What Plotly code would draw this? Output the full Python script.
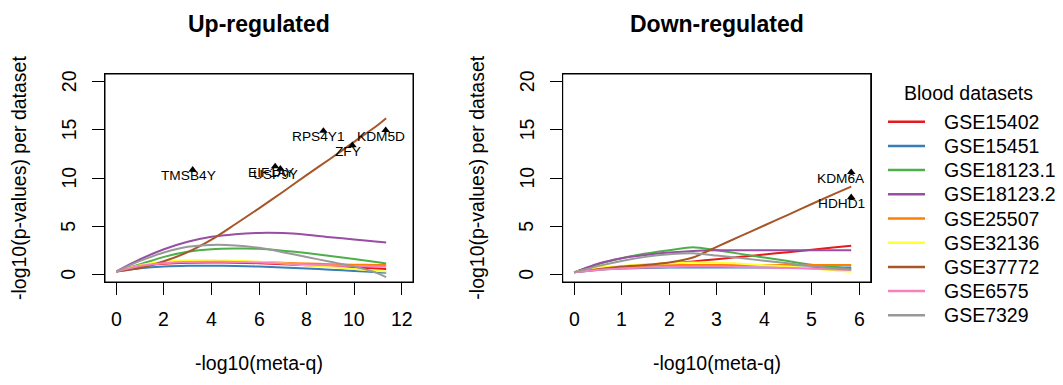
import plotly.graph_objects as go

# ---- data -------------------------------------------------------------
datasets = ["GSE15402", "GSE15451", "GSE18123.1", "GSE18123.2", "GSE25507",
            "GSE32136", "GSE37772", "GSE6575", "GSE7329"]
colors = ["#E41A1C", "#377EB8", "#4DAF4A", "#984EA3", "#FF7F00",
          "#FFFF33", "#A65628", "#F781BF", "#999999"]

# smoothed -log10(p) per dataset along -log10(meta-q), up-regulated genes
up_x = [0, 1, 2, 3, 4, 5, 6, 7, 8, 9, 10, 11, 11.35]
up_GSE15402 = [0.3, 0.85, 1.1, 1.2, 1.22, 1.2, 1.15, 1.05, 0.95, 0.85, 0.72, 0.6, 0.55]
up_GSE15451 = [0.3, 0.62, 0.8, 0.88, 0.9, 0.87, 0.8, 0.7, 0.6, 0.48, 0.35, 0.22, 0.15]
up_GSE18123_1 = [0.3, 1.04, 1.81, 2.33, 2.6, 2.67, 2.65, 2.45, 2.2, 1.9, 1.58, 1.25, 1.12]
up_GSE18123_2 = [0.3, 1.56, 2.6, 3.37, 3.89, 4.17, 4.3, 4.28, 4.11, 3.85, 3.62, 3.37, 3.3]
up_GSE25507 = [0.3, 0.9, 1.2, 1.33, 1.36, 1.33, 1.28, 1.2, 1.12, 1.05, 1.0, 0.97, 0.97]
up_GSE32136 = [0.3, 0.95, 1.3, 1.45, 1.45, 1.4, 1.3, 1.15, 0.95, 0.75, 0.55, 0.35, 0.28]
up_GSE37772 = [0.3, 0.65, 1.35, 2.3, 3.6, 5.2, 6.85, 8.55, 10.3, 12.0, 13.75, 15.5, 16.2]
up_GSE6575 = [0.3, 0.88, 1.15, 1.28, 1.3, 1.28, 1.22, 1.12, 1.02, 0.93, 0.87, 0.82, 0.8]
up_GSE7329 = [0.3, 1.39, 2.26, 2.85, 3.05, 3.0, 2.75, 2.3, 1.8, 1.3, 0.8, 0.1, -0.3]

# down-regulated genes
down_x = [0, 0.5, 1, 1.5, 2, 2.5, 3, 3.5, 4, 4.5, 5, 5.5, 5.83]
down_GSE15402 = [0.2, 0.55, 0.8, 1.0, 1.15, 1.33, 1.57, 1.81, 2.06, 2.3, 2.55, 2.8, 2.97]
down_GSE15451 = [0.2, 0.45, 0.6, 0.66, 0.7, 0.7, 0.7, 0.7, 0.7, 0.7, 0.7, 0.7, 0.7]
down_GSE18123_1 = [0.2, 1.04, 1.67, 2.15, 2.5, 2.82, 2.49, 2.12, 1.74, 1.37, 0.99, 0.75, 0.55]
down_GSE18123_2 = [0.2, 1.1, 1.67, 2.01, 2.26, 2.43, 2.5, 2.5, 2.5, 2.5, 2.5, 2.5, 2.5]
down_GSE25507 = [0.2, 0.6, 0.77, 0.87, 0.94, 0.97, 0.97, 0.97, 0.97, 0.97, 0.97, 0.97, 0.97]
down_GSE32136 = [0.2, 0.7, 0.87, 1.04, 1.15, 1.22, 1.2, 1.1, 0.95, 0.8, 0.6, 0.4, 0.27]
down_GSE37772 = [0.2, 0.52, 0.8, 0.97, 1.22, 1.74, 2.85, 3.96, 5.07, 6.18, 7.3, 8.4, 9.11]
down_GSE6575 = [0.2, 0.45, 0.6, 0.7, 0.77, 0.8, 0.8, 0.75, 0.7, 0.65, 0.58, 0.5, 0.45]
down_GSE7329 = [0.2, 0.85, 1.39, 1.81, 2.08, 2.19, 1.95, 1.7, 1.4, 1.15, 0.85, 0.6, 0.5]

up_series = [up_GSE15402, up_GSE15451, up_GSE18123_1, up_GSE18123_2, up_GSE25507,
             up_GSE32136, up_GSE37772, up_GSE6575, up_GSE7329]
down_series = [down_GSE15402, down_GSE15451, down_GSE18123_1, down_GSE18123_2, down_GSE25507,
               down_GSE32136, down_GSE37772, down_GSE6575, down_GSE7329]

# top genes: meta-q and maximum per-dataset -log10(p)
up_genes = ["TMSB4Y", "EIF1AY", "USP9Y", "RPS4Y1", "ZFY", "KDM5D"]
up_meta = [3.21, 6.68, 6.9, 8.71, 9.93, 11.33]
up_max = [10.85, 11.2, 10.96, 14.89, 13.39, 14.96]

down_genes = ["KDM6A", "HDHD1"]
down_meta = [5.83, 5.83]
down_max = [10.6, 8.0]

# axis ticks
up_xticks = [0, 2, 4, 6, 8, 10, 12]
down_xticks = [0, 1, 2, 3, 4, 5, 6]
yticks = [0, 5, 10, 15, 20]

# ---- figure -----------------------------------------------------------
W, H = 1063, 385
FONT = "Liberation Sans, Arial, Helvetica, sans-serif"
FS = 19.5


def px(v):
    return v / W


def py(v):
    return 1 - v / H


fig = go.Figure()

for name, col, ys in zip(datasets, colors, up_series):
    fig.add_trace(go.Scatter(x=up_x, y=ys, mode="lines", name=name,
                             line=dict(color=col, width=2, shape="spline", smoothing=0.8),
                             xaxis="x", yaxis="y", showlegend=False))
for name, col, ys in zip(datasets, colors, down_series):
    fig.add_trace(go.Scatter(x=down_x, y=ys, mode="lines", name=name,
                             line=dict(color=col, width=2, shape="spline", smoothing=0.6),
                             xaxis="x2", yaxis="y2", showlegend=False))

fig.add_trace(go.Scatter(x=up_meta, y=up_max, mode="markers",
                         marker=dict(symbol="triangle-up", size=7.5, color="black"),
                         xaxis="x", yaxis="y", showlegend=False))
fig.add_trace(go.Scatter(x=down_meta, y=down_max, mode="markers",
                         marker=dict(symbol="triangle-up", size=7.5, color="black"),
                         xaxis="x2", yaxis="y2", showlegend=False))

annotations = []
for g, xv, yv in zip(up_genes, up_meta, up_max):
    annotations.append(dict(x=xv, y=yv, xref="x", yref="y", text=g, showarrow=False,
                            xshift=-4.5, yshift=-6, font=dict(size=13.7, color="black")))
for g, xv, yv in zip(down_genes, down_meta, down_max):
    annotations.append(dict(x=xv, y=yv, xref="x2", yref="y2", text=g, showarrow=False,
                            xshift=-10, yshift=-6, font=dict(size=13.7, color="black")))

# tick labels: numbers below the x ticks, rotated numbers beside the y ticks
for xa, ya, ticks, ylab_x in [("x", "y", up_xticks, 68.5), ("x2", "y2", down_xticks, 526.5)]:
    for t in ticks:
        annotations.append(dict(x=t, y=py(319.2), xref=xa, yref="paper", text=str(t),
                                showarrow=False, xanchor="center", yanchor="middle",
                                font=dict(size=FS, color="black")))
    for t in yticks:
        annotations.append(dict(x=px(ylab_x), y=t, xref="paper", yref=ya, text=str(t),
                                showarrow=False, textangle=-90,
                                xanchor="center", yanchor="middle",
                                font=dict(size=FS, color="black")))

# panel titles and axis titles
for cx, title in [(259, "Up-regulated"), (716.7, "Down-regulated")]:
    annotations.append(dict(x=px(cx), y=py(24.5), xref="paper", yref="paper",
                            text="<b>%s</b>" % title, showarrow=False,
                            xanchor="center", yanchor="middle",
                            font=dict(size=23, color="black")))
    annotations.append(dict(x=px(cx), y=py(363), xref="paper", yref="paper",
                            text="-log10(meta-q)", showarrow=False,
                            xanchor="center", yanchor="middle",
                            font=dict(size=FS, color="black")))
for cx in [19, 476.7]:
    annotations.append(dict(x=px(cx), y=py(178), xref="paper", yref="paper",
                            text="-log10(p-values) per dataset", showarrow=False,
                            textangle=-90, xanchor="center", yanchor="middle",
                            font=dict(size=FS, color="black")))

# legend
annotations.append(dict(x=px(902), y=py(92.5), xref="paper", yref="paper",
                        text="Blood datasets", showarrow=False,
                        xanchor="left", yanchor="middle",
                        font=dict(size=FS, color="black")))
shapes = []
for i, (name, col) in enumerate(zip(datasets, colors)):
    yc = 121.7 + 24.2 * i
    shapes.append(dict(type="line", xref="paper", yref="paper",
                       x0=px(888), x1=px(925), y0=py(yc), y1=py(yc),
                       line=dict(color=col, width=2.5)))
    annotations.append(dict(x=px(942), y=py(yc), xref="paper", yref="paper",
                            text=name, showarrow=False, xanchor="left", yanchor="middle",
                            font=dict(size=FS, color="black")))

# plot frames
for xa, ya in [("x", "y"), ("x2", "y2")]:
    shapes.append(dict(type="rect", xref="%s domain" % xa, yref="%s domain" % ya,
                       x0=0, x1=1, y0=0, y1=1, line=dict(color="black", width=1),
                       fillcolor="rgba(0,0,0,0)", layer="above"))

axis_common = dict(showline=True, mirror=True, linecolor="black", linewidth=1,
                   ticks="outside", ticklen=12, tickwidth=1, tickcolor="black",
                   showgrid=False, zeroline=False, showticklabels=False)

fig.update_layout(
    width=W, height=H,
    margin=dict(l=0, r=0, t=0, b=0),
    paper_bgcolor="white", plot_bgcolor="white",
    font=dict(family=FONT, color="black"),
    xaxis=dict(domain=[px(105), px(413)], range=[-0.48, 12.48],
               tickvals=up_xticks, anchor="y", **axis_common),
    yaxis=dict(domain=[py(282), py(74)], range=[-0.8, 20.8],
               tickvals=yticks, anchor="x", **axis_common),
    xaxis2=dict(domain=[px(562.7), px(870.7)], range=[-0.24, 6.24],
                tickvals=down_xticks, anchor="y2", **axis_common),
    yaxis2=dict(domain=[py(282), py(74)], range=[-0.8, 20.8],
                tickvals=yticks, anchor="x2", **axis_common),
    annotations=annotations,
    shapes=shapes,
    showlegend=False,
)

fig.write_html("out.html")
